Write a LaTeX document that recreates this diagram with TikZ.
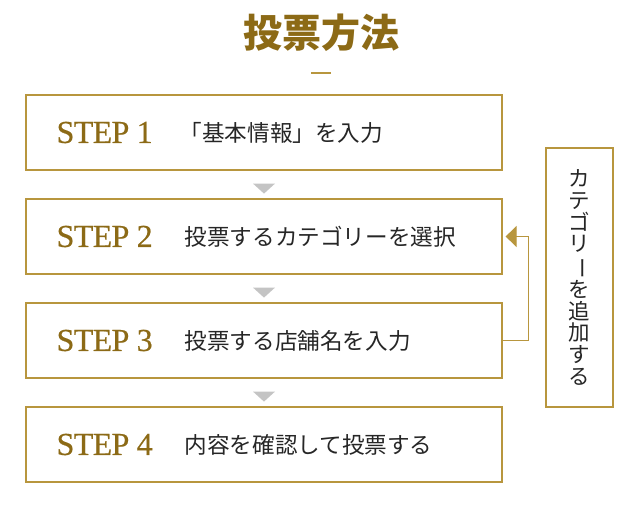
\documentclass[tikz,border=0pt]{standalone}
\usepackage{fontspec}
\usepackage{graphicx}
\setmainfont{Liberation Serif}
\newfontfamily\stepfont[LetterSpace=-2,FakeBold=0.5]{Liberation Serif}
\newfontfamily\jp{Noto Sans CJK JP}
\usetikzlibrary{positioning,arrows.meta,calc}
\definecolor{gold}{HTML}{B8963E}
\definecolor{darkgold}{HTML}{8C6A16}
\definecolor{arrowgray}{HTML}{C4C4C4}
\tikzset{
  stepbox/.style={draw=gold, line width=1.2pt, minimum width=476pt, minimum height=75pt, inner sep=0pt},
  steplabel/.style={anchor=west, text=darkgold, font=\stepfont\fontsize{32}{32}\selectfont, inner sep=0pt},
  steptext/.style={anchor=west, font=\jp\fontsize{22.6}{22.6}\selectfont, inner sep=0pt, text=black!85},
  downmark/.style={fill=arrowgray},
}
\begin{document}
\begin{tikzpicture}[x=1pt,y=-1pt,node distance=27.8pt]
    \useasboundingbox (0,0) rectangle (640,514);

    % title
    \node[text=darkgold, font=\jp\bfseries\fontsize{39}{39}\selectfont] (title) at (321,33) {投票方法};
    \draw[gold, line width=2pt] (311,73) -- (331,73);

    % steps
    \node[stepbox] (s1) at (264,132.5) {};
    \node[stepbox, below=of s1] (s2) {};
    \node[stepbox, below=of s2] (s3) {};
    \node[stepbox, below=of s3] (s4) {};

    \node[steplabel] (l1) at ([xshift=31pt]s1.west) {STEP 1};
    \node[steplabel] (l2) at ([xshift=31pt]s2.west) {STEP 2};
    \node[steplabel] (l3) at ([xshift=31pt]s3.west) {STEP 3};
    \node[steplabel] (l4) at ([xshift=31pt]s4.west) {STEP 4};

    \node[steptext] (t1) at ([xshift=154pt]s1.west) {「基本情報」を入力};
    \node[steptext] (t2) at ([xshift=159pt]s2.west) {投票するカテゴリーを選択};
    \node[steptext] (t3) at ([xshift=159pt]s3.west) {投票する店舗名を入力};
    \node[steptext] (t4) at ([xshift=159pt]s4.west) {内容を確認して投票する};

    % triangles between the steps
    \foreach \a/\b in {s1/s2,s2/s3,s3/s4}{
      \fill[downmark] ($(\a.south)+(-11,13)$) -- ++(22,0) -- ++(-11,10) -- cycle;
    }

    % side note and loop back
    \node[draw=gold, line width=1.2pt, minimum width=67pt, minimum height=259pt, inner sep=0pt,
          font=\jp\fontsize{21.5}{21.6}\selectfont, align=center, text=black!85] (side) at (579.5,277.5)
      {カ\\テ\\ゴ\\リ\\\rotatebox[origin=c]{-90}{ー}\\を\\追\\加\\す\\る};
    \draw[gold, line width=1.2pt, shorten >=3pt, -{Triangle[width=21pt,length=11pt]}]
      (s3.east) -- ++(26,0) |- (s2.east);
\end{tikzpicture}
\end{document}
